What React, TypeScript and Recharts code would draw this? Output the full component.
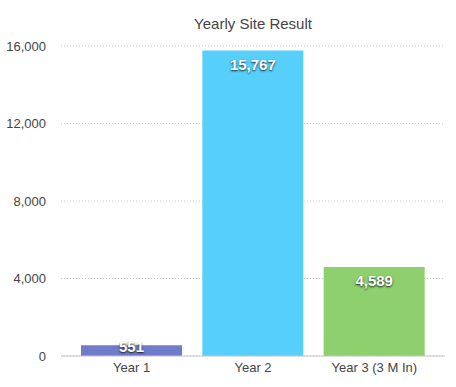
import React from 'react';
import { BarChart, Bar, XAxis, YAxis, CartesianGrid, LabelList, Cell } from 'recharts';

const years = ['Year 1', 'Year 2', 'Year 3 (3 M In)'];
const results = [551, 15767, 4589];
const barColors = ['#707BC9', '#56CFFB', '#8ECF6E'];
const yTicks = [0, 4000, 8000, 12000, 16000];

const data = years.map((year, i) => ({ year, result: results[i] }));

const fmt = (v: number) => v.toLocaleString('en-US');

// white label with a dark shadow, kept inside the bar when it's tall enough
const renderLabel = (props: any) => {
  const { x, y, width, height, value } = props;
  const bottom = y + height;
  const ty = Math.min(y + 19, bottom - 4);
  return (
    <text
      x={x + width / 2}
      y={ty}
      textAnchor="middle"
      fill="#fff"
      fontSize={15}
      fontWeight="bold"
      style={{ textShadow: '0 1px 2px rgba(0,0,0,0.85)' }}
    >
      {fmt(value)}
    </text>
  );
};

export default function App() {
  return (
    <div style={{ position: 'absolute', left: 0, top: 0, fontFamily: '"Liberation Sans", Arial, sans-serif' }}>
      <BarChart
        width={456}
        height={387}
        data={data}
        margin={{ top: 46, right: 11, left: 0, bottom: 0 }}
        barSize={101}
      >
        <text x={253} y={29} textAnchor="middle" fontSize={15} fill="#444">
          Yearly Site Result
        </text>
        <CartesianGrid vertical={false} stroke="#c8c8c8" strokeDasharray="1 2" />
        <XAxis
          dataKey="year"
          height={31}
          padding={{ left: 10, right: 10 }}
          tickSize={0}
          tickMargin={7}
          axisLine={{ stroke: '#c8c8c8' }}
          tick={{ fill: '#444', fontSize: 13 }}
        />
        <YAxis
          width={61}
          domain={[0, 16000]}
          ticks={yTicks}
          tickFormatter={fmt}
          axisLine={false}
          tickSize={0}
          tickMargin={15}
          tick={{ fill: '#444', fontSize: 13 }}
        />
        <Bar dataKey="result" isAnimationActive={false}>
          {data.map((d, i) => (
            <Cell key={d.year} fill={barColors[i]} />
          ))}
          <LabelList dataKey="result" content={renderLabel} />
        </Bar>
      </BarChart>
    </div>
  );
}
